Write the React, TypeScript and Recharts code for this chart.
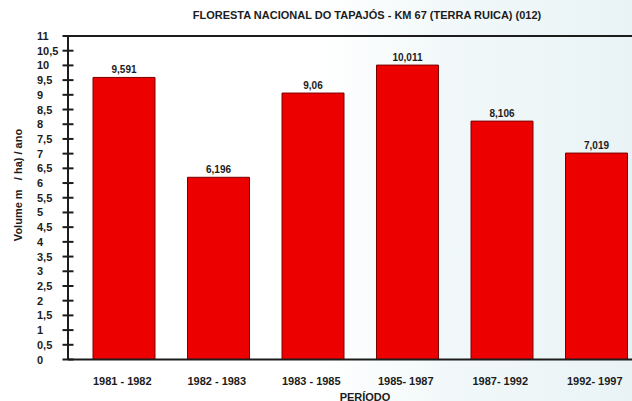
import React from 'react';
import { BarChart, Bar, XAxis, YAxis, ReferenceLine, LabelList, Label } from 'recharts';

const periods = ['1981 - 1982', '1982 - 1983', '1983 - 1985', '1985- 1987', '1987- 1992', '1992- 1997'];
const volumes = [9.591, 6.196, 9.06, 10.011, 8.106, 7.019];
const valueLabels = ['9,591', '6,196', '9,06', '10,011', '8,106', '7,019'];
const yTicks = [0, 0.5, 1, 1.5, 2, 2.5, 3, 3.5, 4, 4.5, 5, 5.5, 6, 6.5, 7, 7.5, 8, 8.5, 9, 9.5, 10, 10.5, 11];

const title = 'FLORESTA NACIONAL DO TAPAJÓS - KM 67 (TERRA RUICA) (012)';
const yLabel = 'Volume m\u00a0\u00a0\u00a0/ ha) / ano';
const xLabel = 'PERÍODO';

const data = periods.map((p, i) => ({ period: p, volume: volumes[i], label: valueLabels[i] }));

const FONT = '"Liberation Sans", Arial, Helvetica, sans-serif';
const INK = '#1c1c1c';

const YTick = (props: any) => {
  const { x, y, payload } = props;
  const txt = String(payload.value).replace('.', ',');
  return (
    <g>
      <line x1={x - 5.5} x2={x + 5.5} y1={y} y2={y} stroke={INK} strokeWidth={2} />
      <text x={x - 31} y={y + 4} textAnchor="start" fontFamily={FONT} fontWeight="bold" fontSize={11} fill={INK}>
        {txt}
      </text>
    </g>
  );
};

const XTick = (props: any) => {
  const { x, y, payload } = props;
  return (
    <text x={x - 2} y={y + 25} textAnchor="middle" fontFamily={FONT} fontWeight="bold" fontSize={11} fill={INK}>
      {payload.value}
    </text>
  );
};

const YLabelContent = (props: any) => {
  const vb = props.viewBox || { x: 8, y: 36, width: 60, height: 323 };
  const cx = vb.x + 10;
  const cy = vb.y + 149;
  return (
    <text x={cx} y={cy} transform={`rotate(-90 ${cx} ${cy})`} textAnchor="middle" dominantBaseline="central" fontFamily={FONT} fontWeight="bold" fontSize={11} fill={INK}>
      {yLabel}
    </text>
  );
};

const XLabelContent = (props: any) => {
  const vb = props.viewBox || { x: 68, y: 360, width: 576, height: 30 };
  const cx = 365;
  const cy = vb.y + 41;
  return (
    <text x={cx} y={cy} textAnchor="middle" fontFamily={FONT} fontWeight="bold" fontSize={11} fill={INK}>
      {xLabel}
    </text>
  );
};

export default function App() {
  return (
    <div
      style={{
        position: 'fixed',
        left: 0,
        top: 0,
        width: 632,
        height: 401,
        overflow: 'hidden',
        background: 'linear-gradient(90deg, #ffffff 0%, #ffffff 50%, #f1f8f9 72%, #e9f3f5 100%)',
      }}
    >
      <div
        style={{
          position: 'absolute',
          left: 0,
          top: 8,
          width: 734,
          textAlign: 'center',
          fontFamily: FONT,
          fontWeight: 'bold',
          fontSize: 11,
          color: INK,
          lineHeight: '14px',
          whiteSpace: 'nowrap',
        }}
      >
        {title}
      </div>
      <div style={{ position: 'absolute', left: 0, top: 0 }}>
        <BarChart width={660} height={401} data={data} margin={{ top: 36, right: 16, bottom: 11.5, left: 8 }}>
          <XAxis
            dataKey="period"
            height={30}
            padding={{ left: 9, right: 0 }}
            tickSize={0}
            tickMargin={0}
            tickLine={false}
            axisLine={{ stroke: INK, strokeWidth: 2 }}
            tick={<XTick />}
            interval={0}
          >
            <Label content={<XLabelContent />} />
          </XAxis>
          <YAxis
            width={60}
            domain={[0, 11]}
            ticks={yTicks}
            interval={0}
            tickSize={0}
            tickMargin={0}
            tickLine={false}
            axisLine={{ stroke: INK, strokeWidth: 2 }}
            tick={<YTick />}
          >
            <Label content={<YLabelContent />} />
          </YAxis>
          <ReferenceLine y={11} stroke={INK} strokeWidth={2} />
          <Bar dataKey="volume" barSize={62} fill="#ec0000" stroke="#7a0000" strokeWidth={1} isAnimationActive={false}>
            <LabelList dataKey="label" position="top" offset={4} fontFamily={FONT} fontWeight="bold" fontSize={10} fill={INK} />
          </Bar>
        </BarChart>
      </div>
    </div>
  );
}
